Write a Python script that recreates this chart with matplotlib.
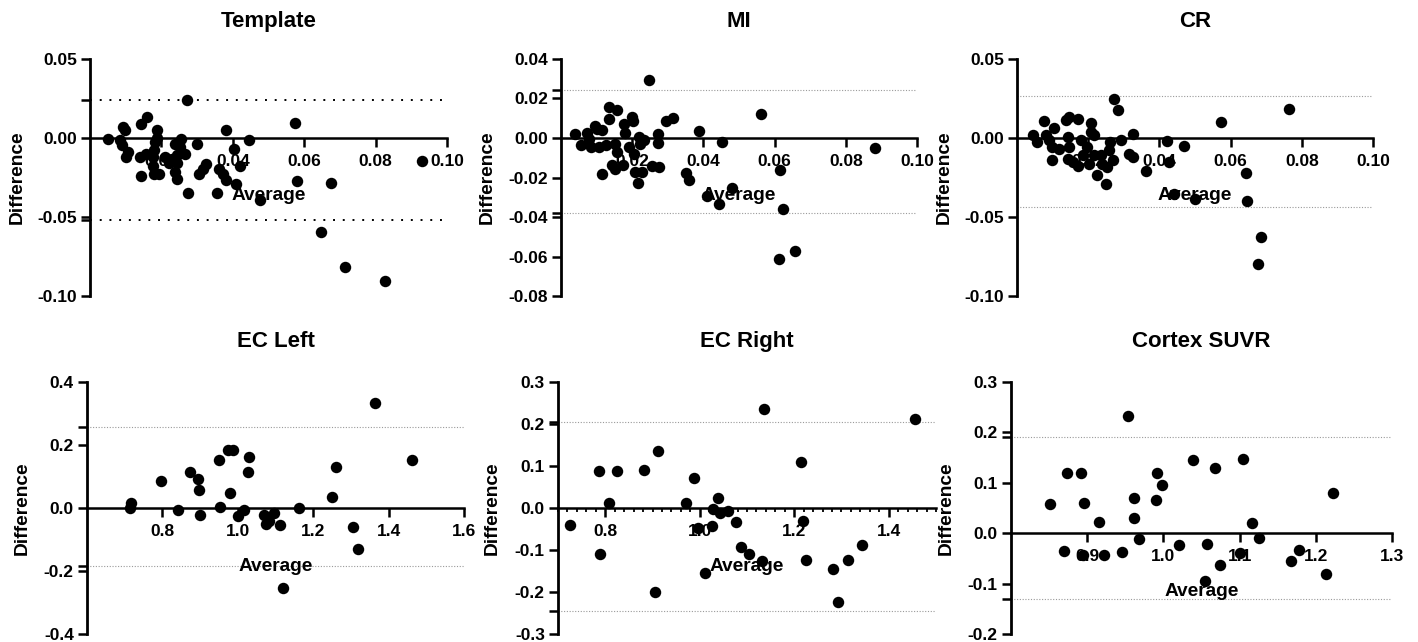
import matplotlib
matplotlib.use('Agg')
import matplotlib.pyplot as plt

plt.rcParams['font.family'] = ['Liberation Sans', 'DejaVu Sans']
plt.rcParams['font.weight'] = 'bold'

# ---- data ----
template_avg = [0.0050, 0.0083, 0.0092, 0.0099, 0.0090, 0.0102, 0.0107, 0.0142, 0.0160, 0.0140,
                0.0142, 0.0158, 0.0177, 0.0187, 0.0187, 0.0182, 0.0180, 0.0177, 0.0180, 0.0194,
                0.0210, 0.0220, 0.0229, 0.0239, 0.0244, 0.0244, 0.0239, 0.0244, 0.0256, 0.0253,
                0.0267, 0.0272, 0.0274, 0.0300, 0.0305, 0.0316, 0.0324, 0.0357, 0.0361, 0.0373,
                0.0382, 0.0382, 0.0402, 0.0410, 0.0420, 0.0446, 0.0475, 0.0574, 0.0581, 0.0646,
                0.0675, 0.0713, 0.0826, 0.0930]
template_diff = [-0.0004, -0.0015, 0.0070, 0.0050, -0.0046, -0.0120, -0.0090, 0.0090, 0.0133, -0.0120,
                 -0.0240, -0.0104, -0.0120, 0.0049, 0.0000, -0.0025, -0.0078, -0.0180, -0.0226, -0.0230,
                 -0.0120, -0.0160, -0.0130, -0.0036, -0.0110, -0.0160, -0.0215, -0.0260, -0.0004, -0.0057,
                 -0.0104, 0.0243, -0.0346, -0.0036, -0.0226, -0.0194, -0.0163, -0.0346, -0.0194, -0.0226,
                 -0.0264, 0.0049, -0.0068, -0.0290, -0.0177, -0.0015, -0.0395, 0.0095, -0.0275, -0.0596,
                 -0.0283, -0.0818, -0.0908, -0.0148]

mi_avg = [0.0039, 0.0057, 0.0073, 0.0080, 0.0085, 0.0095, 0.0101, 0.0114, 0.0106, 0.0125,
          0.0115, 0.0134, 0.0158, 0.0134, 0.0153, 0.0158, 0.0144, 0.0151, 0.0174, 0.0177,
          0.0180, 0.0200, 0.0202, 0.0191, 0.0205, 0.0209, 0.0217, 0.0219, 0.0223, 0.0233,
          0.0228, 0.0247, 0.0256, 0.0273, 0.0273, 0.0275, 0.0294, 0.0315, 0.0350, 0.0360,
          0.0388, 0.0411, 0.0444, 0.0451, 0.0479, 0.0562, 0.0615, 0.0613, 0.0624, 0.0657,
          0.0881]
mi_diff = [0.0022, -0.0037, 0.0025, -0.0003, -0.0046, 0.0059, 0.0047, 0.0039, -0.0046, -0.0037,
           -0.0180, 0.0157, 0.0144, 0.0098, -0.0029, -0.0071, -0.0139, -0.0155, -0.0139, 0.0073,
           0.0025, 0.0106, 0.0086, -0.0046, -0.0079, -0.0172, -0.0228, 0.0005, -0.0029, -0.0012,
           -0.0172, 0.0292, -0.0142, 0.0019, -0.0025, -0.0147, 0.0086, 0.0103, -0.0177, -0.0215,
           0.0035, -0.0296, -0.0333, -0.0020, -0.0254, 0.0123, -0.0161, -0.0615, -0.0358, -0.0570,
           -0.0049]

cr_avg = [0.0044, 0.0056, 0.0077, 0.0081, 0.0091, 0.0097, 0.0105, 0.0098, 0.0119, 0.0137,
          0.0147, 0.0170, 0.0142, 0.0147, 0.0142, 0.0156, 0.0170, 0.0179, 0.0184, 0.0198,
          0.0203, 0.0207, 0.0207, 0.0217, 0.0215, 0.0226, 0.0236, 0.0240, 0.0251, 0.0254,
          0.0259, 0.0262, 0.0271, 0.0273, 0.0285, 0.0293, 0.0315, 0.0327, 0.0327, 0.0362,
          0.0421, 0.0427, 0.0441, 0.0469, 0.0499, 0.0572, 0.0644, 0.0647, 0.0684, 0.0678,
          0.0764]
cr_diff = [0.0017, -0.0025, 0.0108, 0.0017, -0.0015, -0.0057, 0.0063, -0.0142, -0.0068, 0.0112,
           0.0133, 0.0123, 0.0006, -0.0057, -0.0131, -0.0152, -0.0177, -0.0015, -0.0110, -0.0057,
           -0.0163, 0.0095, 0.0038, 0.0017, -0.0110, -0.0237, -0.0110, -0.0163, -0.0290, -0.0184,
           -0.0078, -0.0025, -0.0137, 0.0249, 0.0175, -0.0015, -0.0099, -0.0120, 0.0023, -0.0211,
           -0.0019, -0.0152, -0.0353, -0.0051, -0.0385, 0.0101, -0.0220, -0.0401, -0.0628, -0.0797,
           0.0182]

ecl_avg = [0.716, 0.714, 0.796, 0.842, 0.873, 0.894, 0.897, 0.901, 0.950, 0.954,
           0.975, 0.988, 0.979, 1.000, 1.016, 1.029, 1.027, 1.069, 1.074, 1.082,
           1.096, 1.113, 1.120, 1.162, 1.251, 1.261, 1.305, 1.318, 1.363, 1.462]
ecl_diff = [0.016, 0.000, 0.085, -0.005, 0.113, 0.093, 0.058, -0.021, 0.153, 0.002,
            0.185, 0.185, 0.048, -0.024, -0.005, 0.161, 0.113, -0.021, -0.051, -0.042,
            -0.016, -0.055, -0.254, 0.000, 0.035, 0.129, -0.060, -0.129, 0.333, 0.153]

ecr_avg = [0.725, 0.787, 0.807, 0.824, 0.789, 0.882, 0.911, 0.905, 0.971, 0.988,
           0.996, 1.012, 1.025, 1.029, 1.038, 1.043, 1.059, 1.076, 1.088, 1.105,
           1.132, 1.136, 1.214, 1.218, 1.224, 1.282, 1.293, 1.313, 1.344, 1.456]
ecr_diff = [-0.041, 0.087, 0.012, 0.087, -0.110, 0.091, 0.135, -0.200, 0.012, 0.072,
            -0.048, -0.155, -0.044, -0.002, 0.024, -0.012, -0.008, -0.033, -0.094, -0.110,
            -0.126, 0.236, 0.109, -0.032, -0.123, -0.145, -0.224, -0.123, -0.087, 0.211]

ctx_avg = [0.851, 0.869, 0.874, 0.892, 0.895, 0.896, 0.916, 0.922, 0.946, 0.954,
           0.961, 0.962, 0.968, 0.990, 0.991, 0.998, 1.020, 1.039, 1.054, 1.057,
           1.068, 1.074, 1.100, 1.104, 1.116, 1.126, 1.168, 1.178, 1.213, 1.222]
ctx_diff = [0.058, -0.036, 0.119, 0.119, -0.044, 0.060, 0.023, -0.043, -0.038, 0.232,
            0.070, 0.030, -0.011, 0.066, 0.119, 0.095, -0.023, 0.146, -0.095, -0.022,
            0.130, -0.063, -0.040, 0.147, 0.020, -0.009, -0.055, -0.033, -0.081, 0.079]

titles = ['Template', 'MI', 'CR', 'EC Left', 'EC Right', 'Cortex SUVR']
limits_of_agreement = [(0.024, -0.052), (0.0243, -0.038), (0.0266, -0.0437),
                       (0.257, -0.183), (0.204, -0.245), (0.191, -0.131)]

top_xticks = [0.02, 0.04, 0.06, 0.08, 0.10]
top_xlabels = ['0.02', '0.04', '0.06', '0.08', '0.10']

panels = [
    dict(x=template_avg, y=template_diff, xlim=(0, 0.10), ylim=(-0.10, 0.05),
         xticks=top_xticks, xlabels=top_xlabels,
         yticks=[-0.10, -0.05, 0.0, 0.05], ylabels=['-0.10', '-0.05', '0.00', '0.05'],
         rect=[90, 59, 447, 296], ylab_x=-0.179, xlab_y=0.459, loa_style='dark', loa_ticks=True,
         title_pad=23),
    dict(x=mi_avg, y=mi_diff, xlim=(0, 0.10), ylim=(-0.08, 0.04),
         xticks=top_xticks, xlabels=top_xlabels,
         yticks=[-0.08, -0.06, -0.04, -0.02, 0.0, 0.02, 0.04],
         ylabels=['-0.08', '-0.06', '-0.04', '-0.02', '0.00', '0.02', '0.04'],
         rect=[561, 59, 917, 296], ylab_x=-0.183, xlab_y=0.459, loa_style='light', loa_ticks=True,
         title_pad=23),
    dict(x=cr_avg, y=cr_diff, xlim=(0, 0.10), ylim=(-0.10, 0.05),
         xticks=top_xticks, xlabels=top_xlabels,
         yticks=[-0.10, -0.05, 0.0, 0.05], ylabels=['-0.10', '-0.05', '0.00', '0.05'],
         rect=[1017, 59, 1373, 296], ylab_x=-0.18, xlab_y=0.459, loa_style='light', loa_ticks=False,
         title_pad=23),
    dict(x=ecl_avg, y=ecl_diff, xlim=(0.6, 1.6), ylim=(-0.4, 0.4),
         xticks=[0.8, 1.0, 1.2, 1.4, 1.6], xlabels=['0.8', '1.0', '1.2', '1.4', '1.6'],
         yticks=[-0.4, -0.2, 0.0, 0.2, 0.4], ylabels=['-0.4', '-0.2', '0.0', '0.2', '0.4'],
         rect=[87, 382, 464, 634], ylab_x=-0.149, xlab_y=0.30, loa_style='light', loa_ticks=True,
         title_pad=25),
    dict(x=ecr_avg, y=ecr_diff, xlim=(0.7, 1.5), ylim=(-0.3, 0.3),
         xticks=[0.8, 1.0, 1.2, 1.4], xlabels=['0.8', '1.0', '1.2', '1.4'],
         yticks=[-0.3, -0.2, -0.1, 0.0, 0.1, 0.2, 0.3],
         ylabels=['-0.3', '-0.2', '-0.1', '0.0', '0.1', '0.2', '0.3'],
         rect=[558, 382, 936, 634], ylab_x=-0.151, xlab_y=0.303, loa_style='light', loa_ticks=True,
         title_pad=25, minor_step=0.02),
    dict(x=ctx_avg, y=ctx_diff, xlim=(0.8, 1.3), ylim=(-0.2, 0.3),
         xticks=[0.9, 1.0, 1.1, 1.2, 1.3], xlabels=['0.9', '1.0', '1.1', '1.2', '1.3'],
         yticks=[-0.2, -0.1, 0.0, 0.1, 0.2, 0.3],
         ylabels=['-0.2', '-0.1', '0.0', '0.1', '0.2', '0.3'],
         rect=[1011, 382, 1392, 634], ylab_x=-0.147, xlab_y=0.202, loa_style='light', loa_ticks=True,
         title_pad=25),
]

W, H = 1418, 642
fig = plt.figure(figsize=(W / 100, H / 100), dpi=100)

for title, loa, p in zip(titles, limits_of_agreement, panels):
    l, t, r, b = p['rect']
    ax = fig.add_axes([l / W, 1 - b / H, (r - l) / W, (b - t) / H])
    ax.set_xlim(*p['xlim'])
    ax.set_ylim(*p['ylim'])

    ax.spines['top'].set_visible(False)
    ax.spines['right'].set_visible(False)
    ax.spines['bottom'].set_position(('data', 0))
    ax.spines['left'].set_linewidth(2.0)
    ax.spines['bottom'].set_linewidth(1.8)

    ax.set_xticks(p['xticks'])
    ax.set_xticklabels(p['xlabels'])
    ax.set_yticks(p['yticks'])
    ax.set_yticklabels(p['ylabels'])
    ax.tick_params(axis='both', which='major', length=6.5, width=1.8, labelsize=12.5, pad=3)
    ax.tick_params(axis='x', which='major', pad=5)

    if 'minor_step' in p:
        lo, hi = p['xlim']
        n = int(round((hi - lo) / p['minor_step']))
        ax.set_xticks([lo + i * p['minor_step'] for i in range(n + 1)], minor=True)
        ax.tick_params(axis='x', which='minor', length=3, width=1.3)
    if p['loa_ticks']:
        ax.set_yticks(list(loa), minor=True)
        ax.tick_params(axis='y', which='minor', length=6.5, width=1.8)

    for v in loa:
        if p['loa_style'] == 'dark':
            ax.axhline(v, color='black', linestyle=(0, (1, 4)), linewidth=1.4, zorder=1)
        else:
            ax.axhline(v, color='#9a9a9a', linestyle=(0, (1, 1.5)), linewidth=0.8, zorder=1)

    ax.scatter(p['x'], p['y'], s=68, color='black', linewidths=0, zorder=3, clip_on=False)

    ax.set_title(title, fontsize=16, fontweight='bold', pad=p['title_pad'])
    ax.set_xlabel('Average', fontsize=13.8, fontweight='bold')
    ax.xaxis.set_label_coords(0.5, p['xlab_y'])
    ax.set_ylabel('Difference', fontsize=13.8, fontweight='bold')
    ax.yaxis.set_label_coords(p['ylab_x'], 0.5)

fig.savefig('out.png', dpi=100)
